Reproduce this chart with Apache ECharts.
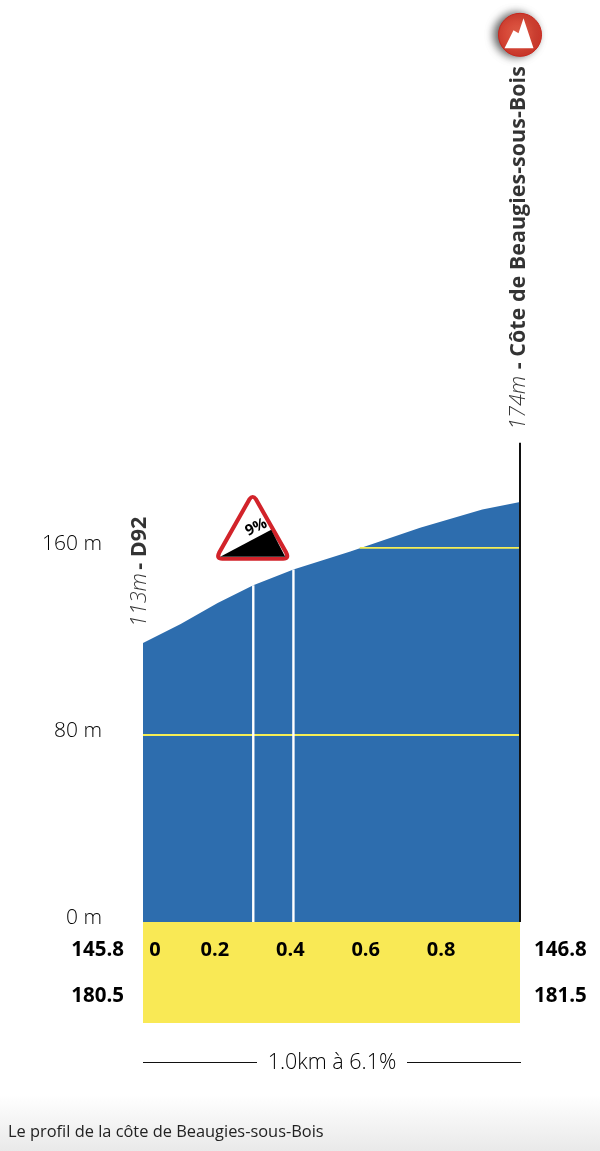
<!DOCTYPE html>
<html><head><meta charset="utf-8">
<style>html,body{margin:0;padding:0;background:#fff}#c{width:600px;height:1151px}</style>
<script src="https://cdn.jsdelivr.net/npm/echarts@6/dist/echarts.min.js"></script>
</head><body><div id="c"></div>
<script>
const profile = [[0,119.4],[0.1,127.5],[0.198,136.5],[0.2925,144],[0.399,150.8],[0.55,158.5],[0.735,168.6],[0.9,176.5],[1,179.7]];
const gridline80 = [[0,80],[1,80]];
const gridline160 = [[0.575,160],[1,160]];
const kmMarkA = [[0.2925,0],[0.2925,144]];
const kmMarkB = [[0.399,0],[0.399,150.8]];
const finishLine = [[1,0],[1,205]];
const yTicks = [0,80,160];
const xTicks = [0,0.2,0.4,0.6,0.8];
const leftRows = ['145.8','180.5'];
const rightRows = ['146.8','181.5'];
const startLabel = ['113m','- D92'];
const endLabel = ['174m','- Côte de Beaugies-sous-Bois'];
const gradientSign = [[0.291,168.6]];
const climbBadge = [[1,379.5]];
const summary = '1.0km à 6.1%';
const caption = 'Le profil de la côte de Beaugies-sous-Bois';

const FONT = '"Open Sans", sans-serif';
const rotatedRich = {
  it:{fontFamily:FONT,fontStyle:'italic',fontWeight:300,fontSize:21.5,color:'#000'},
  b:{fontFamily:FONT,fontWeight:700,fontSize:21.5,color:'#000'}
};
const chart = echarts.init(document.getElementById('c'),null,{renderer:'canvas'});
chart.setOption({
  animation:false,
  backgroundColor:'#fff',
  title:[
    {text:caption,left:8,top:1124,textStyle:{fontFamily:FONT,fontSize:16.4,fontWeight:400,color:'#222'},padding:0}
  ],
  grid:[
    {left:143,width:377,top:0,height:922,show:false},
    {left:143,width:377,top:922,height:101,show:true,backgroundColor:'#f9e955',borderWidth:0}
  ],
  xAxis:[
    {gridIndex:0,type:'value',min:0,max:1,interval:0.2,z:10,
     axisLine:{show:false},axisTick:{show:false},splitLine:{show:false},
     axisLabel:{margin:18,color:'#000',
       formatter:v=>{
         if(!xTicks.includes(v)) return '';
         return v===0?'{z|0}':'{n|'+v+'}';
       },
       rich:{
         z:{fontFamily:FONT,fontWeight:700,fontSize:20,color:'#000',padding:[0,0,0,24]},
         n:{fontFamily:FONT,fontWeight:700,fontSize:20,color:'#000',padding:[0,7,0,0]}
       }}},
    {gridIndex:1,type:'value',min:0,max:1,show:false}
  ],
  yAxis:[
    {gridIndex:0,type:'value',min:0,max:394.4,
     axisLine:{show:false},axisTick:{show:false},splitLine:{show:false},
     axisLabel:{customValues:yTicks,margin:41,formatter:v=>'{a|'+v+' m}',
       rich:{a:{fontFamily:FONT,fontSize:21,fontWeight:300,color:'#000',padding:[0,0,8,0]}}}},
    {gridIndex:1,type:'value',inverse:true,min:0,max:101,position:'left',
     axisLine:{show:false},axisTick:{show:false},splitLine:{show:false},
     axisLabel:{customValues:[28,74],margin:19,color:'#000',fontFamily:FONT,fontSize:20.5,fontWeight:700,
       formatter:v=>leftRows[v===28?0:1]}},
    {gridIndex:1,type:'value',inverse:true,min:0,max:101,position:'right',
     axisLine:{show:false},axisTick:{show:false},splitLine:{show:false},
     axisLabel:{customValues:[28,74],margin:14,color:'#000',fontFamily:FONT,fontSize:20.5,fontWeight:700,
       formatter:v=>rightRows[v===28?0:1]}}
  ],
  series:[
    {type:'line',data:profile,symbol:'none',lineStyle:{width:0},areaStyle:{color:'#2d6dae',opacity:1},z:2},
    {type:'line',data:gridline80,symbol:'none',lineStyle:{color:'#f5ee55',width:1.8},z:3},
    {type:'line',data:gridline160,symbol:'none',lineStyle:{color:'#f5ee55',width:1.8},z:3},
    {type:'line',data:kmMarkA,symbol:'none',lineStyle:{color:'#fff',width:2.4},z:4},
    {type:'line',data:kmMarkB,symbol:'none',lineStyle:{color:'#fff',width:2.4},z:4},
    {type:'line',data:finishLine,symbol:'none',lineStyle:{color:'#111',width:2},z:5},
    {type:'scatter',data:[profile[0]],symbolSize:0,z:6,silent:true,
     label:{show:true,position:'top',rotate:90,align:'left',verticalAlign:'middle',offset:[11,-3],
       formatter:'{it|'+startLabel[0]+'} {b|'+startLabel[1]+'}',rich:rotatedRich}},
    {type:'scatter',data:[finishLine[1]],symbolSize:0,z:6,silent:true,
     label:{show:true,position:'top',rotate:90,align:'left',verticalAlign:'middle',offset:[8,-1],
       formatter:'{it|'+endLabel[0]+'}  {b|'+endLabel[1]+'}',rich:rotatedRich}},
    {type:'scatter',data:gradientSign,z:7,silent:true,
     symbol:'path://M33 4 Q36 0 39 4 L69 56 Q72 62 66 62 L6 62 Q0 62 3 56 Z',symbolSize:[69,62],
     itemStyle:{color:'#fff',borderColor:'#d2232a',borderWidth:4,opacity:1}},
    {type:'scatter',data:gradientSign,z:8,silent:true,
     symbol:'path://M0 27 L51 0 L65 27 Z',symbolSize:[65,27],symbolOffset:[0,15.5],
     itemStyle:{color:'#000',opacity:1},
     label:{show:true,position:'inside',formatter:'9%',rotate:25,offset:[10,-13],
       fontFamily:FONT,fontWeight:700,fontSize:15,color:'#000'}},
    {type:'scatter',data:climbBadge,z:7,silent:true,symbol:'circle',symbolSize:43,
     itemStyle:{opacity:1,borderColor:'#c9261c',borderWidth:1,
       color:{type:'radial',x:0.45,y:0.45,r:0.6,colorStops:[{offset:0,color:'#db5a45'},{offset:1,color:'#d2362a'}]},
       shadowColor:'rgba(0,0,0,0.65)',shadowBlur:9,shadowOffsetX:-4,shadowOffsetY:0}},
    {type:'scatter',data:climbBadge,z:8,silent:true,
     symbol:'path://M0 30 L9 12 L14 15 L19 0 L29 30 Z',symbolSize:[29,30],symbolOffset:[-1,-1.5],
     itemStyle:{color:'#fff',opacity:1}}
  ],
  graphic:[
    {type:'rect',shape:{x:0,y:1095,width:600,height:56},z:-1,silent:true,
     style:{fill:{type:'linear',x:0,y:0,x2:0,y2:1,colorStops:[{offset:0,color:'#ffffff'},{offset:1,color:'#e9e9e9'}]}}},
    {type:'text',x:332,y:1063,z:5,silent:true,style:{text:summary,align:'center',verticalAlign:'middle',
      font:'300 21.5px "Open Sans", sans-serif',fill:'#000'}},
    {type:'line',shape:{x1:143,y1:1062.5,x2:257,y2:1062.5},z:5,silent:true,style:{stroke:'#111',lineWidth:1}},
    {type:'line',shape:{x1:407,y1:1062.5,x2:521,y2:1062.5},z:5,silent:true,style:{stroke:'#111',lineWidth:1}}
  ]
});
</script></body></html>
